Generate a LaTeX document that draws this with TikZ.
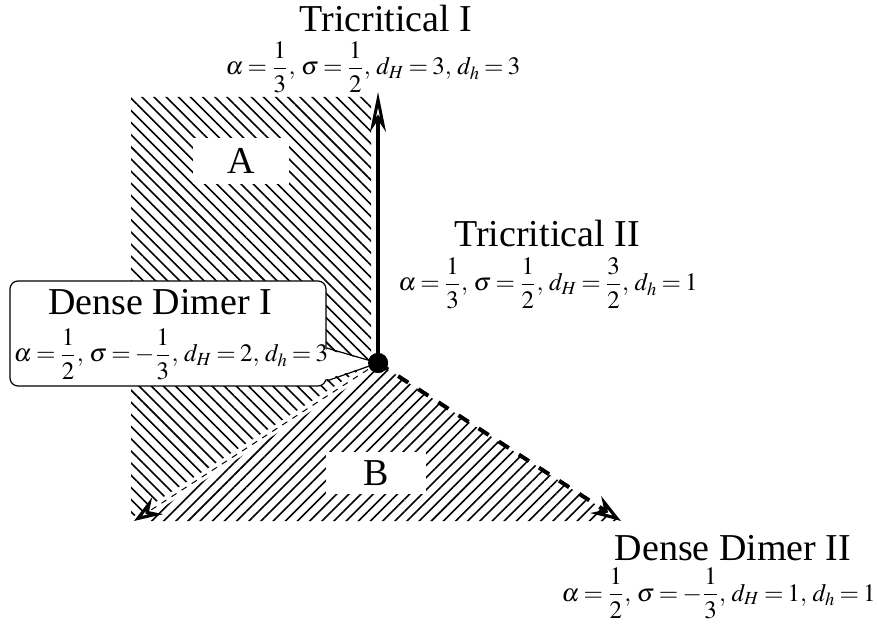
\documentclass[tikz,border=0pt]{standalone}
\usepackage{mathptmx}
\usepackage[no-math]{fontspec}
\setmainfont{Liberation Serif}
\usetikzlibrary{arrows.meta,patterns.meta}
\thickmuskip=3mu plus 1mu
\tikzset{
  bigtext/.style={font=\fontsize{19}{22}\selectfont, inner sep=0pt},
  formula/.style={font=\fontsize{12.5}{15}\selectfont, inner sep=0pt},
  hatchA/.style={pattern={Lines[angle=-45,distance=4.3pt,line width=0.8pt]}},
  hatchB/.style={pattern={Lines[angle=45,distance=4.3pt,line width=0.8pt]}},
  regionlabel/.style={fill=white, inner sep=0pt, minimum width=48pt, minimum height=23pt, font=\fontsize{19}{22}\selectfont},
  dotnode/.style={circle, fill, inner sep=0pt, minimum size=10pt},
  calloutbox/.style={draw, fill=white, line width=0.6pt, rounded corners=4pt, inner sep=0pt, minimum width=158pt, minimum height=52.5pt},
}
\begin{document}
\begin{tikzpicture}[x=0.5pt,y=-0.5pt]
  \useasboundingbox (0,0) rectangle (877,624);
  \node[dotnode] (tc) at (378,363) {};
  \coordinate (tI) at (378,92);
  \coordinate (ddL) at (134,521);
  \coordinate (ddII) at (621,521);
  % hatched regions
  \fill[hatchA] (131,97) -- (371,97) -- (371,363) -- (ddL) -- (131,521) -- cycle;
  \fill[hatchB] (tc.center) -- (ddL) -- (ddII) -- cycle;
  \draw[white, line width=4pt] (tc.center) -- (ddL);
  \node[regionlabel] (A) at (241,161) {A};
  \node[regionlabel, minimum width=50pt, minimum height=21pt] (B) at (376,473) {B};
  % box for Dense Dimer I with its pointer
  \node[calloutbox] (ddIbox) at (168,333.5) {};
  \coordinate (p1) at (ddIbox.east |- 0,348);
  \coordinate (p2) at (ddIbox.east |- 0,381);
  \fill[white] ([xshift=-3pt]p1) -- (tc.center) -- ([xshift=-3pt]p2) -- cycle;
  \draw[line width=0.6pt] (p1) -- (tc.center) -- (p2);
  % lines out of the critical point
  \draw[line width=2pt, -{Stealth[open, fill=white, length=20pt, width=8pt, inset=6pt, line width=1.5pt]}] (tc.center) -- (tI);
  \draw[line width=2pt, dash pattern=on 6pt off 6pt, -{Stealth[open, fill=white, length=15pt, width=10pt, inset=5pt, line width=1.6pt]}] (tc.center) -- (ddII);
  \draw[line width=0.5pt, dash pattern=on 3pt off 3pt, -{Stealth[open, fill=white, length=14pt, width=10pt, inset=5pt, line width=1.6pt]}] (tc.center) -- (ddL);
  \node[dotnode] at (tc) {};
  % labels
  \node[bigtext, anchor=base] (tIname) at (386,32) {Tricritical I};
  \node[formula, anchor=base] (tIval) at (373,75) {$\displaystyle \alpha=\frac{1}{3},\, \sigma=\frac{1}{2},\, d_H=3,\, d_h=3$};
  \node[bigtext, anchor=base] (tIIname) at (547,247) {Tricritical II};
  \node[formula, anchor=base] (tIIval) at (548,291) {$\displaystyle \alpha=\frac{1}{3},\, \sigma=\frac{1}{2},\, d_H=\frac{3}{2},\, d_h=1$};
  \node[bigtext, anchor=base] (ddIname) at (160,315) {Dense Dimer I};
  \node[formula, anchor=base] (ddIval) at (171,362) {$\displaystyle \alpha=\frac{1}{2},\, \sigma=-\frac{1}{3},\, d_H=2,\, d_h=3$};
  \node[bigtext, anchor=base] (ddIIname) at (733,560) {Dense Dimer II};
  \node[formula, anchor=base east] (ddIIval) at (876,601) {$\displaystyle \alpha=\frac{1}{2},\, \sigma=-\frac{1}{3},\, d_H=1,\, d_h=1$};
\end{tikzpicture}
\end{document}
